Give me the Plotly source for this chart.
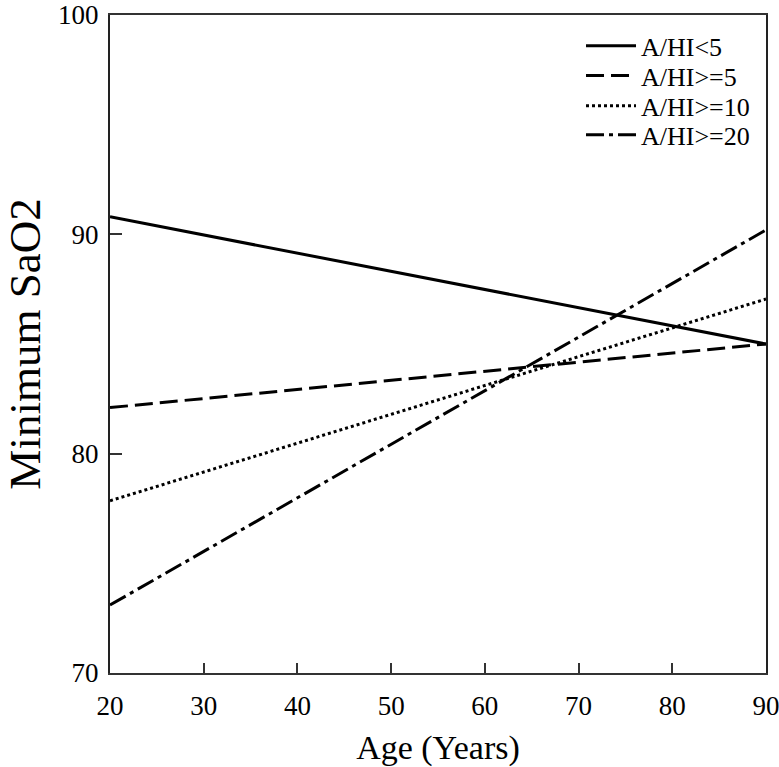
import plotly.graph_objects as go

age = [20, 90]
series_names = ["A/HI<5", "A/HI>=5", "A/HI>=10", "A/HI>=20"]
sao2_lt5 = [90.8, 85.0]
sao2_ge5 = [82.1, 85.0]
sao2_ge10 = [77.85, 87.05]
sao2_ge20 = [73.1, 90.2]
x_ticks = [20, 30, 40, 50, 60, 70, 80, 90]
y_ticks = [70, 80, 90, 100]

dashes = ["solid", "18px,7px", "3px,3px", "18px,5px,4px,5px"]
values = [sao2_lt5, sao2_ge5, sao2_ge10, sao2_ge20]
legend_ids = ["legend", "legend2", "legend3", "legend4"]
legend_rows = [0.953, 0.908, 0.862, 0.818]

fig = go.Figure()
for name, vals, d, lid in zip(series_names, values, dashes, legend_ids):
    fig.add_trace(go.Scatter(x=age, y=vals, mode="lines", name=name, legend=lid,
                             line=dict(color="black", width=3, dash=d)))

font_family = "Liberation Serif"
legend_layout = {}
for lid, ly in zip(legend_ids, legend_rows):
    legend_layout[lid] = dict(x=0.718, y=ly, xanchor="left", yanchor="middle",
                              bgcolor="rgba(0,0,0,0)",
                              font=dict(size=26, family=font_family),
                              itemwidth=50)

fig.update_layout(
    width=779, height=767,
    margin=dict(l=110, r=13, t=15, b=94),
    paper_bgcolor="white", plot_bgcolor="white",
    font=dict(family=font_family, color="black", size=27),
    showlegend=True,
    xaxis=dict(range=[20, 90], tickvals=x_ticks, ticks="inside", ticklen=10,
               tickwidth=1.5, tickcolor="#333", showline=True, linecolor="#333",
               linewidth=2, mirror=True, showgrid=False, zeroline=False,
               automargin=False, ticklabelstandoff=8, ticklabeloverflow="allow",
               title=dict(text="Age (Years)", font=dict(size=34), standoff=15),
               tickfont=dict(size=27)),
    yaxis=dict(range=[70, 100], tickvals=y_ticks, ticks="inside", ticklen=12,
               tickwidth=1.5, tickcolor="#333", showline=True, linecolor="#222",
               linewidth=2, mirror=True, showgrid=False, zeroline=False,
               automargin=False, ticklabelstandoff=4, ticklabeloverflow="allow",
               title=dict(text="Minimum SaO2", font=dict(size=45), standoff=12),
               tickfont=dict(size=27)),
    **legend_layout,
)

fig.write_html("out.html")
